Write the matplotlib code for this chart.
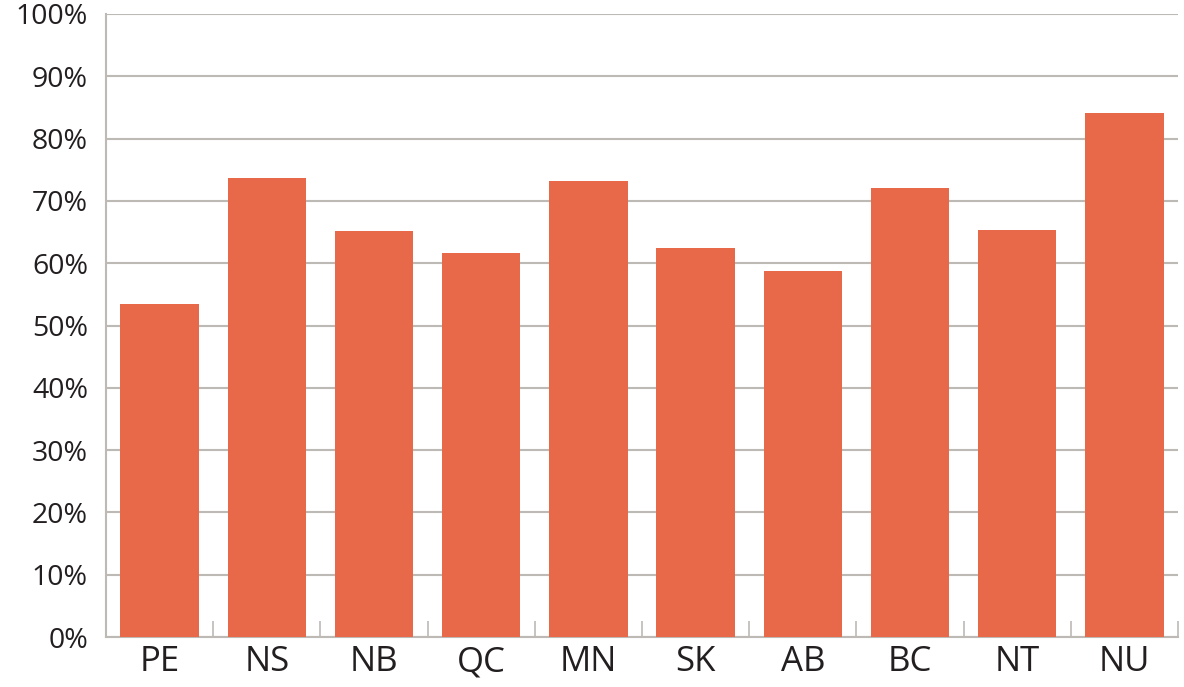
import matplotlib.pyplot as plt
import numpy as np
from matplotlib.ticker import FixedLocator, PercentFormatter

categories = ["PE", "NS", "NB", "QC", "MN", "SK", "AB", "BC", "NT", "NU"]
values = [53.5, 73.6, 65.1, 61.7, 73.2, 62.4, 58.7, 72.0, 65.3, 84.1]
yticks = [0, 10, 20, 30, 40, 50, 60, 70, 80, 90, 100]

plt.rcParams['font.family'] = ['Open Sans', 'DejaVu Sans']

fig = plt.figure(figsize=(11.84, 6.87), dpi=100)
ax = fig.add_axes([106/1184, 50/687, (1178-106)/1184, (637-14)/687])

x = np.arange(len(categories))
ax.bar(x, values, width=0.73, color="#E8694A", zorder=3)

ax.set_xlim(-0.5, len(categories) - 0.5)
ax.set_ylim(0, 100)
ax.set_yticks(yticks)
ax.yaxis.set_major_formatter(PercentFormatter(decimals=0))
ax.grid(axis='y', color="#BDB9B5", linewidth=1.5, zorder=0)

ax.set_xticks(x)
ax.set_xticklabels(categories, fontsize=25, color="#231F20")
ax.xaxis.set_minor_locator(FixedLocator(np.arange(0.5, len(categories) + 0.1, 1.0)))
ax.tick_params(axis='x', which='major', length=0, pad=6)
ax.tick_params(axis='x', which='minor', direction='in', length=11.5, width=1.2, color="#BDB9B5")
ax.tick_params(axis='y', length=0, pad=13, labelsize=20.5, labelcolor="#231F20")

for s in ['top', 'right']:
    ax.spines[s].set_visible(False)
for s in ['left', 'bottom']:
    ax.spines[s].set_color("#BDB9B5")
    ax.spines[s].set_linewidth(1.5)

fig.savefig("out.png", dpi=100)
